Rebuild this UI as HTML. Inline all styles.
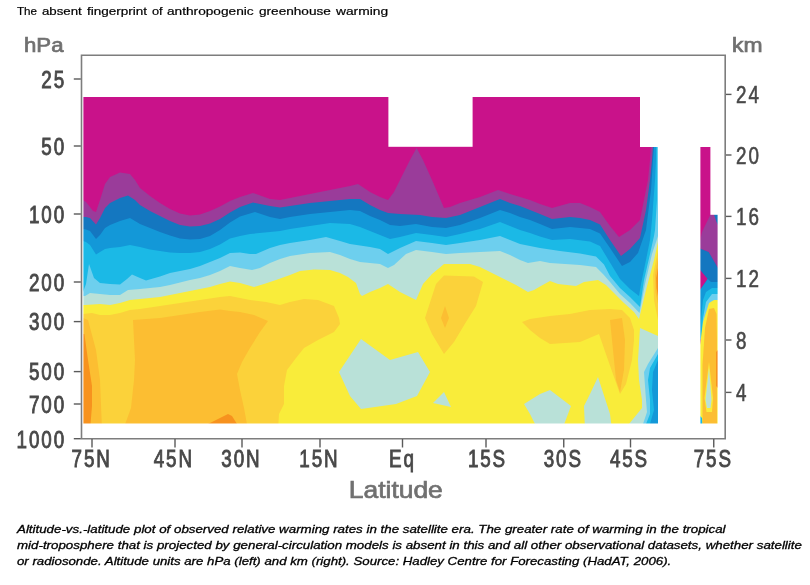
<!DOCTYPE html>
<html><head><meta charset="utf-8"><title>The absent fingerprint of anthropogenic greenhouse warming</title>
<style>
html,body{margin:0;padding:0;background:#fff}
body{width:810px;height:585px;position:relative;overflow:hidden;font-family:"Liberation Sans",sans-serif;color:#000}
.title{position:absolute;left:17px;top:5px;font-size:11px;line-height:13px;white-space:nowrap;-webkit-text-stroke:0.2px #000}
.title span{position:absolute;top:0;transform-origin:0 0;display:block}
.cap{position:absolute;left:17px;top:521px;font-size:11px;line-height:16.2px;font-style:italic;white-space:nowrap;-webkit-text-stroke:0.3px #000;transform:scaleX(1.211);transform-origin:0 0}
#c3{display:inline-block;transform:scaleX(0.9936);transform-origin:0 0}
</style></head><body>
<div class="title"><span style="left:-0.0px;transform:scaleX(1.060)">The</span> <span style="left:25.2px;transform:scaleX(1.205)">absent</span> <span style="left:69.6px;transform:scaleX(1.229)">fingerprint</span> <span style="left:135.3px;transform:scaleX(1.164)">of</span> <span style="left:150.0px;transform:scaleX(1.243)">anthropogenic</span> <span style="left:241.9px;transform:scaleX(1.237)">greenhouse</span> <span style="left:318.9px;transform:scaleX(1.253)">warming</span></div>
<svg width="810" height="585" viewBox="0 0 810 585" style="position:absolute;left:0;top:0">
<rect x="83" y="90" width="580" height="340" fill="#f9ec3a"/>
<polygon fill="#b9e1d8" points="83,90 83,305 85,305 100,304 110,305 120,303 130,300 140,299 150,298 160,297 170,295 180,293 190,291 200,289 210,287 220,284 230,281.5 240,283 254,287 264,284 276,280 290,275 300,271 314,269.6 330,270 340,273 348,277 356,283 360,294 362,296 370,292 380,288 388,284 400,292 416,300 423,284 432,274 444,264 470,264 480,267 492,273 504,279 516,285 528,292 534,290 540,286.5 550,281 558,284 576,286 584,282 598,280 606,285 614,293 624,303 634,312 639,319 646,290 654,260 658,242 658,90"/>
<polygon fill="#6dcfee" points="83,90 83,296 85,296 90,293 100,294 110,295 120,295 128,290 140,289 150,288 160,287 170,285 180,282.4 190,280 200,278 210,275 220,271 230,266 240,268 252,270 260,268 270,263 280,259 290,256 310,253 330,252 340,255 350,259 360,262 370,263 380,264 388,268 394,265 406,254 416,250 432,252 446,254 460,253 480,252 500,251 510,255 520,260 528,263 540,261 550,263 580,265 596,267 603,274 610,282 620,294 630,303 639.5,313 645,284 652,254 658,236 658,90"/>
<polygon fill="#1bb9e6" points="83,90 83,292 86,284 89,264 94,278 100,283 110,284 120,284.4 127,279 132,274.4 140,278 146,280.4 160,276.4 170,273 180,271 190,269 200,266 210,262 220,258 230,253 240,252.5 250,254 256,254 270,248 280,245 290,243 310,240 326,237 340,241 350,244 370,247 380,249 388,254 400,248 416,241 432,243 446,245 460,243 480,240 500,236 510,240 520,244 530,246 540,248 560,251 580,253.5 596,256.5 604,264.5 610,276 620,288 630,297 640,307 644,280 650,254 654,236 655,230 657,200 657,147 657,90"/>
<polygon fill="#1398d8" points="83,90 83,241 86,242 90,245 96,254.5 100,252 105,249 110,248 120,247 130,245 140,247 150,249.5 160,251 170,252.4 180,253 190,253 200,252 210,249 220,244.5 230,238.5 240,236 250,234 270,232 280,231 290,229 310,226 330,223 350,224 360,227 370,231 380,235 390,239 400,237 416,233 432,235 446,237 460,234 480,229 500,222 510,226 520,230 530,233 540,236.5 552,240 570,239 590,241.5 600,246 610,262.5 620,279 630,289 639,296 641,284 646,260 650,240 652,220 655,180 656,160 656,147 656,90"/>
<polygon fill="#1477c0" points="83,90 83,229 86,229.5 90,231 96,239 100,235 105,228 110,225 120,221 130,218 135,221 140,224 150,228 160,232 170,235.6 180,238.4 190,239.6 200,239 210,236 220,230 230,222.5 240,216.5 255,212 270,217 280,219 290,217 310,214 330,212 350,210 360,211 370,216 380,220 390,225 400,226 416,224 432,227 446,228 460,225 480,218 500,210 510,213 520,217 530,220 540,224 552,229 570,227 590,229 600,233.5 610,248 622,266 630,262 638,253 646,230 651,190 653,160 654,147 654,90"/>
<polygon fill="#9a3c9a" points="83,90 83,217 86,217 90,218 96,224.5 100,218 105,208 110,203 120,198 128,195.6 135,200 140,205 150,211 160,216 170,221 180,225 190,226.6 200,226 210,223.6 220,219 230,212.5 240,207 253,202.6 270,206 280,207.6 290,206 310,203 330,201 350,199 360,199 370,205 380,210 388,213 400,214 420,215 432,217 446,218 460,215 480,207 500,199 510,203 520,206 530,210 540,214 552,219 570,217 580,218 590,220 600,224.5 610,240 621,256 630,249 640,238 646,210 650,180 652,160 653,147 653,90"/>
<polygon fill="#c9128a" points="83,90 83,200 86,202 90,207 93,211 96,212 100,200 105,184 110,177 120,172.4 130,174 135,180 140,188 150,196 160,203 170,209 180,213.6 190,215.6 200,214.4 210,211 220,206.4 230,201 240,197 253,193 270,199 280,200 290,198 310,194 330,190 350,186 358,184 370,192 380,197 388,200 394,192 410,160 416.6,148 423,160 432,180 444,208 450,207 460,203 480,197 498,190 510,194 520,197 530,200 540,204 552,208 570,203 580,203 590,207 600,212 610,226 619,237 630,230 640,220 644,200 648,180 650,160 651,147 651,90"/>
<polygon fill="#fbd23a" points="83,314 92,313 100,315 110,315 120,313 130,310 140,309 160,306 180,303 200,300 220,297 230,296 240,298 250,300 266,302 280,305 290,302 304,299 318,300 334,306 339,318 340,324 334,332 318,340 304,348 296,358 287,370 284,386 284,404 279,414 278,430 83,430"/>
<polygon fill="#fcbe32" points="133,320 160,318 180,315 200,312 220,309.5 230,311 240,312 254,315 268,321 260,332 250,348 242,362 237,374 240,390 244,408 248,430 123,430 131,408 134,380 135,360"/>
<polygon fill="#fcbe32" points="83,318 88,320 96,350 100,380 102,430 83,430"/>
<polygon fill="#f7921e" points="83,334 84.4,334 88,360 92,386 92,406 90,430 83,430"/>
<polygon fill="#f7921e" points="208,424 228,414 232,416 237,424 237,430 208,430"/>
<polygon fill="#b9e1d8" points="361,339 390,360 418,352 430,372 417,396 396,404 361,409 350,396 339,372"/>
<polygon fill="#b9e1d8" points="444,392 451,407 433,403"/>
<polygon fill="#fbd23a" points="444,275.6 474,276.4 483,282 476,306 466,322 454,342 444,354 432,334 425,318 436,284"/>
<polygon fill="#fcbe32" points="445,306 449,318 445,328 441,318"/>
<polygon fill="#fbd23a" points="522,322 530,319 550,316 570,314 590,310 610,309 622,310 630,318 634,330 634,340 632,360 626,384 620,394 608,360 599,334 580,342 550,344 540,338 530,330"/>
<polygon fill="#fcbe32" points="610,320 622,318 625,340 624,370 620,392 616,380 612,340"/>
<polygon fill="#b9e1d8" points="524,404 540,394 550,390 571,406 562,430 538,430 530,414"/>
<polygon fill="#b9e1d8" points="598,377 610,414 612,430 585,430 584,406 590,394"/>
<polygon fill="#b9e1d8" points="640,328 658,336 658,430 629,430 629,424 642,408 642,400 639,380 638,360"/>
<polygon fill="#6dcfee" points="658,348 648,364 644,372 646,400 647,412 643,424 643,430 658,430"/>
<polygon fill="#1bb9e6" points="658,354 650,368 648,380 650,400 650,414 646,424 646,430 658,430"/>
<polygon fill="#1398d8" points="658,360 653,372 652,390 654,410 650,424 650,430 658,430"/>
<polygon fill="#fbd23a" points="658,250 653,275 654,300 658,320"/>
<polygon fill="#fcbe32" points="658,258 655,275 655.5,292 658,304"/>
<polygon fill="#f7921e" points="658,268 656.2,278 656.5,288 658,296"/>
<rect x="700" y="140" width="18" height="290" fill="#c9128a"/>
<polygon fill="#9a3c9a" points="710.4,214.8 718,214.8 718,268 708.7,252 700,248.5 700,241 702,232"/>
<polygon fill="#1477c0" points="713.8,214 718,214 718,225 716.5,222"/>
<polygon fill="#1477c0" points="700,248.5 708.7,252 718,268 718,300 700,300 700,290 707.7,279 700,269.7"/>
<polygon fill="#1398d8" points="700,290 703.5,285 707.7,279 711,282 718,282 718,310 700,340"/>
<polygon fill="#1bb9e6" points="703,300 706,292 712,288 718,288 718,312 700,340 701,320"/>
<polygon fill="#6dcfee" points="706,302 712,294 718,294 718,312 702,335 703,318"/>
<polygon fill="#f9ec3a" points="709,303 714,300 718,300 718,430 700,430 700,345 703,322"/>
<polygon fill="#fcbe32" points="709,309 714,308 716.5,314 717,340 717,424 702.5,424 702.5,365 705,328"/>
<polygon fill="#f7921e" points="716,352 718,350 718,388 716,386"/>
<polygon fill="#f9ec3a" points="709,362 713,398 712,412 706.5,412 704.5,398"/>
<polygon fill="#b9e1d8" points="709,368 711.5,400 710.5,408 707,408 705.5,400"/>
<polygon fill="#1bb9e6" points="700,416 702,418 702.5,430 700,430"/>
<rect x="60" y="80" width="620" height="17" fill="#fff"/>
<rect x="388.4" y="80" width="84.2" height="66.8" fill="#fff"/>
<rect x="640" y="80" width="60.4" height="67" fill="#fff"/>
<rect x="658" y="80" width="42.4" height="360" fill="#fff"/>
<rect x="60" y="423.5" width="680" height="13.5" fill="#fff"/>
<rect x="60" y="80" width="23.4" height="357" fill="#fff"/>
<rect x="710.4" y="80" width="13.6" height="134.8" fill="#fff"/>
<rect x="717.6" y="80" width="6.4" height="357" fill="#fff"/>
<rect x="690" y="80" width="34" height="67" fill="#fff"/>
<g stroke="#7d7d7d" stroke-width="1.6" fill="none">
<path d="M81.5,439.4 V55.2 H725.2 V438.7 H81"/>
</g>
<g stroke="#5a5a5a" stroke-width="1.4" fill="none">
<path d="M73.8,79 H80.8"/>
<path d="M73.8,146 H80.8"/>
<path d="M73.8,214 H80.8"/>
<path d="M73.8,282 H80.8"/>
<path d="M73.8,321.6 H80.8"/>
<path d="M73.8,371.6 H80.8"/>
<path d="M73.8,404 H80.8"/>
<path d="M73.8,438.7 H80.8"/>
<path d="M726,94.4 H731.5"/>
<path d="M726,155 H731.5"/>
<path d="M726,216.4 H731.5"/>
<path d="M726,278.4 H731.5"/>
<path d="M726,340 H731.5"/>
<path d="M726,392.4 H731.5"/>
<path d="M92,439 V447.5"/>
<path d="M175,439 V447.5"/>
<path d="M242,439 V447.5"/>
<path d="M320,439 V447.5"/>
<path d="M402.5,439 V447.5"/>
<path d="M486,439 V447.5"/>
<path d="M563.75,439 V447.5"/>
<path d="M630.5,439 V447.5"/>
<path d="M713.75,439 V447.5"/>
</g>
<g font-family="'Liberation Sans', sans-serif" font-size="23.5" fill="#484848" stroke="#484848" stroke-width="0.9" letter-spacing="2.4">
<text transform="translate(64,88) scale(0.8,1)" text-anchor="end" x="2.6">25</text>
<text transform="translate(64,155.4) scale(0.8,1)" text-anchor="end" x="2.6">50</text>
<text transform="translate(64,223.4) scale(0.8,1)" text-anchor="end" x="2.6">100</text>
<text transform="translate(64,291) scale(0.8,1)" text-anchor="end" x="2.6">200</text>
<text transform="translate(64,330.4) scale(0.8,1)" text-anchor="end" x="2.6">300</text>
<text transform="translate(64,380.4) scale(0.8,1)" text-anchor="end" x="2.6">500</text>
<text transform="translate(64,413) scale(0.8,1)" text-anchor="end" x="2.6">700</text>
<text transform="translate(64,448) scale(0.8,1)" text-anchor="end" x="2.6">1000</text>
<text stroke-width="0.6" transform="translate(737,103) scale(0.8,1)" x="-1.2">24</text>
<text stroke-width="0.6" transform="translate(737,164) scale(0.8,1)" x="-1.2">20</text>
<text stroke-width="0.6" transform="translate(737,225.4) scale(0.8,1)" x="-1.2">16</text>
<text stroke-width="0.6" transform="translate(737,287.4) scale(0.8,1)" x="-1.2">12</text>
<text stroke-width="0.6" transform="translate(737,349) scale(0.8,1)" x="-1.2">8</text>
<text stroke-width="0.6" transform="translate(737,401.4) scale(0.8,1)" x="-1.2">4</text>
<text transform="translate(90.75,467) scale(0.8,1)" text-anchor="middle" x="1.2">75N</text>
<text transform="translate(172.875,467) scale(0.8,1)" text-anchor="middle" x="1.2">45N</text>
<text transform="translate(240.5,467) scale(0.8,1)" text-anchor="middle" x="1.2">30N</text>
<text transform="translate(318.5,467) scale(0.8,1)" text-anchor="middle" x="1.2">15N</text>
<text transform="translate(401.5,467) scale(0.8,1)" text-anchor="middle" x="1.2">Eq</text>
<text transform="translate(486.5,467) scale(0.8,1)" text-anchor="middle" x="1.2">15S</text>
<text transform="translate(562.375,467) scale(0.8,1)" text-anchor="middle" x="1.2">30S</text>
<text transform="translate(628.5,467) scale(0.8,1)" text-anchor="middle" x="1.2">45S</text>
<text transform="translate(712.375,467) scale(0.8,1)" text-anchor="middle" x="1.2">75S</text>
</g>
<g font-family="'Liberation Sans', sans-serif" fill="#707070" stroke="#707070" stroke-width="0.7">
<text x="24" y="52" font-size="20" textLength="39.5" lengthAdjust="spacingAndGlyphs">hPa</text>
<text x="732" y="52" font-size="20" textLength="30.5" lengthAdjust="spacingAndGlyphs">km</text>
<text x="348.8" y="498" font-size="24.5" textLength="94" lengthAdjust="spacingAndGlyphs">Latitude</text>
</g>
</svg>
<div class="cap"><span id="c1">Altitude-vs.-latitude plot of observed relative warming rates in the satellite era. The greater rate of warming in the tropical</span><br><span id="c2">mid-troposphere that is projected by general-circulation models is absent in this and all other observational datasets, whether satellite</span><br><span id="c3">or radiosonde. Altitude units are hPa (left) and km (right). Source: Hadley Centre for Forecasting (HadAT, 2006).</span></div>
</body></html>
